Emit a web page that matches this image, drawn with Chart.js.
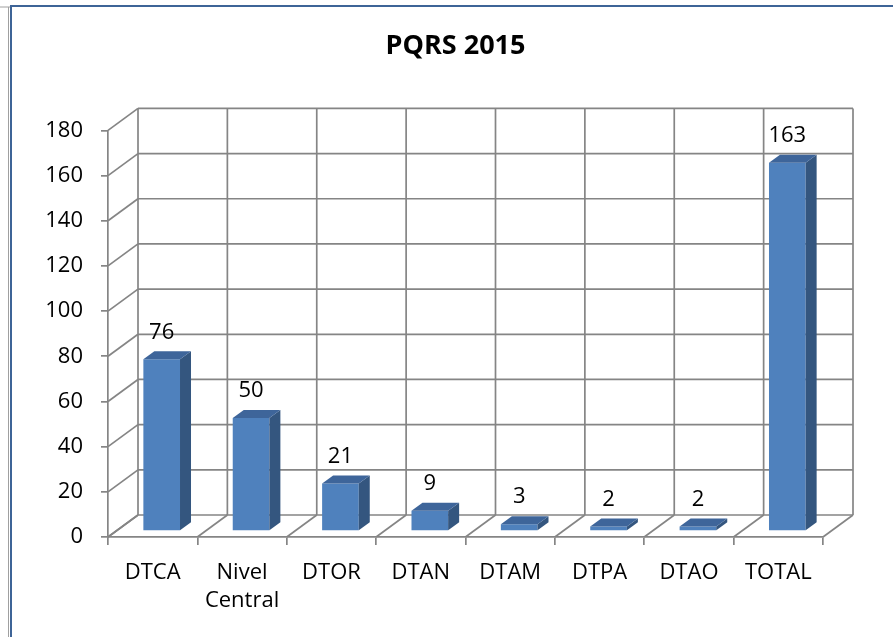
<!DOCTYPE html>
<html>
<head>
<meta charset="utf-8">
<script src="https://cdn.jsdelivr.net/npm/chart.js@4.4.1/dist/chart.umd.min.js"></script>
<style>
  html, body { margin: 0; padding: 0; background: #fff; }
  #wrap { position: relative; width: 893px; height: 637px; }
</style>
</head>
<body>
<div id="wrap"><canvas id="pqrsChart"></canvas></div>
<script>
const categories = ["DTCA", ["Nivel", "Central"], "DTOR", "DTAN", "DTAM", "DTPA", "DTAO", "TOTAL"];
const values = [76, 50, 21, 9, 3, 2, 2, 163];
const yTicks = [0, 20, 40, 60, 80, 100, 120, 140, 160, 180];

const FONT = "'Open Sans', sans-serif";
const GRID = "#858585";
// depth of the back wall and of the bars (px)
const WALL = { dx: 30, dy: -22 };
const BAR_POS = { dx: 9, dy: -6 };
const BAR_DEPTH = { dx: 11, dy: -8 };

const line = (ctx, x1, y1, x2, y2) => {
  ctx.beginPath();
  ctx.moveTo(x1, y1);
  ctx.lineTo(x2, y2);
  ctx.stroke();
};

const frame3d = {
  id: "frame3d",
  beforeDraw: (chart) => {
    const ctx = chart.ctx;
    ctx.save();
    // outer border of the chart box
    ctx.strokeStyle = "#a0a0a0";
    ctx.lineWidth = 1;
    line(ctx, 0, 7, 10, 7);
    line(ctx, 8.5, 7, 8.5, 637);
    ctx.strokeStyle = "#3e6497";
    ctx.lineWidth = 2;
    line(ctx, 10, 6, 893, 6);
    line(ctx, 11, 6, 11, 637);
    ctx.restore();
  },
  beforeDatasetsDraw: (chart) => {
    const ctx = chart.ctx;
    const ys = chart.scales.y;
    const area = chart.chartArea;
    const n = categories.length;
    const step = (area.right - area.left) / n;
    const y0 = ys.getPixelForValue(0);
    ctx.save();
    ctx.strokeStyle = GRID;
    ctx.lineWidth = 1.7;
    // back wall horizontal grid lines + left wall diagonals
    yTicks.forEach((v) => {
      const yf = ys.getPixelForValue(v);
      line(ctx, area.left + WALL.dx, yf + WALL.dy, area.right + WALL.dx, yf + WALL.dy);
      line(ctx, area.left, yf, area.left + WALL.dx, yf + WALL.dy);
    });
    // back wall vertical lines + floor diagonals
    for (let i = 0; i <= n; i++) {
      const xf = area.left + i * step;
      line(ctx, xf + WALL.dx, ys.getPixelForValue(180) + WALL.dy, xf + WALL.dx, y0 + WALL.dy);
      line(ctx, xf, y0, xf + WALL.dx, y0 + WALL.dy);
    }
    ctx.restore();
    ctx.save();
    ctx.translate(BAR_POS.dx, BAR_POS.dy);
  },
  afterDatasetsDraw: (chart) => {
    const ctx = chart.ctx;
    const meta = chart.getDatasetMeta(0);
    meta.data.forEach((bar) => {
      const w = bar.width;
      const l = bar.x - w / 2;
      const r = bar.x + w / 2;
      // side face
      ctx.fillStyle = "#34567f";
      ctx.beginPath();
      ctx.moveTo(r, bar.base);
      ctx.lineTo(r + BAR_DEPTH.dx, bar.base + BAR_DEPTH.dy);
      ctx.lineTo(r + BAR_DEPTH.dx, bar.y + BAR_DEPTH.dy);
      ctx.lineTo(r, bar.y);
      ctx.closePath();
      ctx.fill();
      // top face
      ctx.fillStyle = "#3e659a";
      ctx.beginPath();
      ctx.moveTo(l, bar.y);
      ctx.lineTo(l + BAR_DEPTH.dx, bar.y + BAR_DEPTH.dy);
      ctx.lineTo(r + BAR_DEPTH.dx, bar.y + BAR_DEPTH.dy);
      ctx.lineTo(r, bar.y);
      ctx.closePath();
      ctx.fill();
    });
    ctx.restore();
    // value labels
    ctx.save();
    ctx.fillStyle = "#000";
    ctx.font = "22px " + FONT;
    ctx.textAlign = "center";
    ctx.textBaseline = "middle";
    meta.data.forEach((bar, i) => {
      ctx.fillText(String(values[i]), bar.x + BAR_POS.dx, bar.y + BAR_POS.dy - 27);
    });
    ctx.restore();
  },
};

new Chart(document.getElementById("pqrsChart"), {
  type: "bar",
  data: {
    labels: categories,
    datasets: [
      {
        data: values,
        backgroundColor: "#4f81bd",
        borderWidth: 0,
        categoryPercentage: 1,
        barPercentage: 0.41,
      },
    ],
  },
  options: {
    responsive: true,
    maintainAspectRatio: false,
    animation: false,
    layout: { padding: { left: 18, right: 0, top: 0, bottom: 0 } },
    plugins: {
      legend: { display: false },
      tooltip: { enabled: false },
      title: {
        display: true,
        text: "PQRS 2015",
        color: "#000",
        font: { family: FONT, size: 27, weight: "bold" },
        padding: { top: 30, bottom: 68 },
      },
    },
    scales: {
      y: {
        min: 0,
        max: 180,
        afterFit: (s) => { s.width = 90; },
        afterBuildTicks: (s) => { s.ticks = yTicks.map((v) => ({ value: v })); },
        border: { color: GRID, width: 1.7 },
        grid: { drawOnChartArea: false, drawTicks: true, tickLength: 7, color: GRID, lineWidth: 1.7 },
        ticks: { color: "#000", padding: 18, font: { family: FONT, size: 22 } },
      },
      // empty right axis keeps room for the wall depth
      yRight: {
        position: "right",
        afterFit: (s) => { s.width = 70; },
        grid: { display: false },
        border: { display: false },
        ticks: { display: false },
      },
      x: {
        afterFit: (s) => { s.height = 100; },
        border: { color: GRID, width: 1.7 },
        grid: { offset: true, drawOnChartArea: false, drawTicks: true, tickLength: 8, color: GRID, lineWidth: 1.7 },
        ticks: { color: "#000", padding: 13, maxRotation: 0, autoSkip: false, font: { family: FONT, size: 22, lineHeight: 1.3 } },
      },
    },
  },
  plugins: [frame3d],
});
</script>
</body>
</html>
